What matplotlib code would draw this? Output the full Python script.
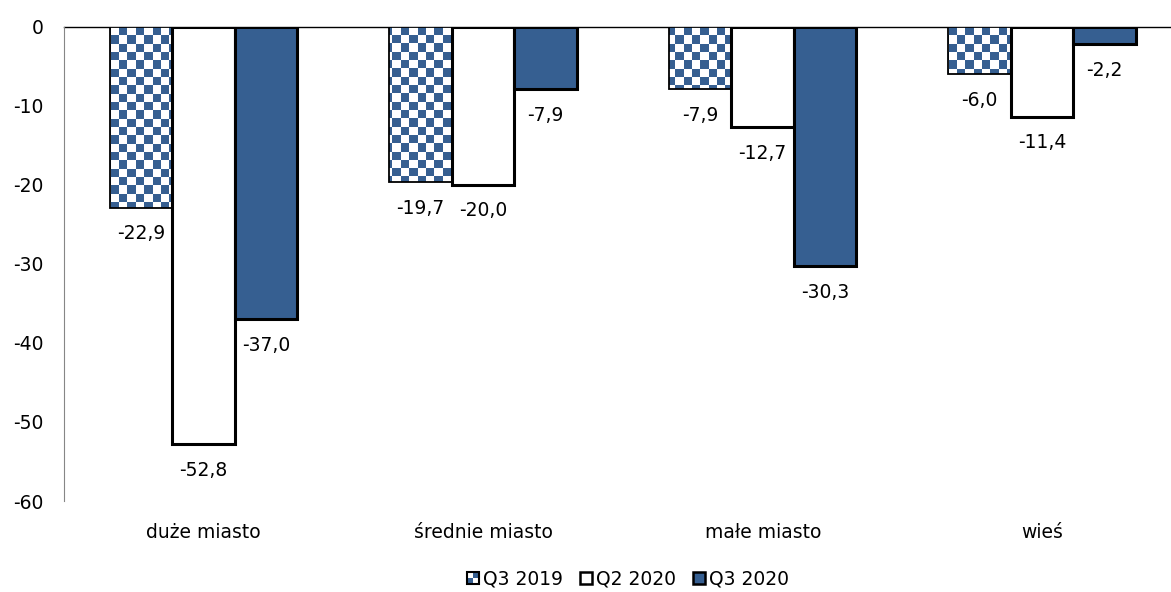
import numpy as np
import matplotlib
matplotlib.use("Agg")
import matplotlib.pyplot as plt
from matplotlib.patches import Rectangle, Patch
from matplotlib.legend_handler import HandlerBase
from matplotlib.colors import ListedColormap

plt.rcParams["font.family"] = ["DejaVu Sans"]
plt.rcParams["axes.unicode_minus"] = False

# Data
categories = ["duże miasto", "średnie miasto", "małe miasto", "wieś"]
series_names = ["Q3 2019", "Q2 2020", "Q3 2020"]
q3_2019 = [-22.9, -19.7, -7.9, -6.0]
q2_2020 = [-52.8, -20.0, -12.7, -11.4]
q3_2020 = [-37.0, -7.9, -30.3, -2.2]
y_ticks = [0, -10, -20, -30, -40, -50, -60]

BLUE = "#365F91"
FS = 13.5

fig = plt.figure(figsize=(11.71, 5.92), dpi=100)
ax = fig.add_axes([0.05465, 0.1537, 0.9547, 0.8015])

x = np.arange(len(categories))
bw = 0.2236

ax.set_xlim(-0.5, len(categories) - 0.5)
ax.set_ylim(-60, 0)

# Checkerboard image used to fill the first series
cell_x = 0.0297   # data units across (~8 px)
cell_y = 1.05     # data units down (~8 px)
ncols = int(np.ceil(4.2 / cell_x))
nrows = int(np.ceil(62 / cell_y))
yy, xx = np.mgrid[0:nrows, 0:ncols]
checker = ((yy + xx) % 2).astype(float)
cmap = ListedColormap(["white", BLUE])
x0 = -0.6
y0 = -61

bars1 = ax.bar(x - bw, q3_2019, bw, facecolor="none", edgecolor="black",
               linewidth=1.3, zorder=3)
for b in bars1:
    im = ax.imshow(checker, cmap=cmap, interpolation="nearest", origin="lower",
                   extent=[x0, x0 + ncols * cell_x, y0, y0 + nrows * cell_y],
                   aspect="auto", zorder=2)
    im.set_clip_path(b)
bars2 = ax.bar(x, q2_2020, bw, facecolor="white", edgecolor="black",
               linewidth=2.2, zorder=3)
bars3 = ax.bar(x + bw, q3_2020, bw, facecolor=BLUE, edgecolor="black",
               linewidth=2.2, zorder=3)

ax.set_xlim(-0.5, len(categories) - 0.5)
ax.set_ylim(-60, 0)

# Value labels under each bar end
for bars, vals in ((bars1, q3_2019), (bars2, q2_2020), (bars3, q3_2020)):
    for b, v in zip(bars, vals):
        ax.annotate(f"{v:.1f}".replace(".", ","),
                    xy=(b.get_x() + b.get_width() / 2, v),
                    xytext=(0, -12), textcoords="offset points",
                    ha="center", va="top", fontsize=FS, color="black")

# Axes styling
ax.set_yticks(y_ticks)
ax.set_yticklabels([str(t) for t in y_ticks])
ax.set_xticks(x)
ax.set_xticklabels(categories)
ax.tick_params(axis="y", length=0, pad=15, labelsize=FS)
ax.tick_params(axis="x", length=0, pad=15.5, labelsize=FS)
for s in ("right", "bottom"):
    ax.spines[s].set_visible(False)
ax.spines["left"].set_color("#868686")
ax.spines["left"].set_linewidth(0.8)
ax.spines["top"].set_color("black")
ax.spines["top"].set_linewidth(1.0)
ax.spines["top"].set_zorder(1)


class CheckerHandler(HandlerBase):
    def create_artists(self, legend, orig_handle, xdescent, ydescent,
                       width, height, fontsize, trans):
        s = min(width, height)
        bx = -xdescent + (width - s) / 2
        by = -ydescent + (height - s) / 2
        h = s / 2
        arts = []
        for i in range(2):
            for j in range(2):
                c = BLUE if (i + j) % 2 == 0 else "white"
                arts.append(Rectangle((bx + i * h, by + j * h), h, h,
                                      facecolor=c, edgecolor="none",
                                      transform=trans))
        arts.append(Rectangle((bx, by), s, s, fill=False, edgecolor="black",
                              linewidth=1.5, transform=trans))
        return arts


class CheckerKey:
    pass


handles = [CheckerKey(),
           Patch(facecolor="white", edgecolor="black", linewidth=1.8),
           Patch(facecolor=BLUE, edgecolor="black", linewidth=1.8)]
fig.legend(handles, series_names, loc="center", ncol=3,
           bbox_to_anchor=(0.536, 0.022), bbox_transform=fig.transFigure,
           frameon=False, fontsize=FS, borderpad=0,
           handlelength=0.64, handleheight=0.64, handletextpad=0.22,
           columnspacing=0.9,
           handler_map={CheckerKey: CheckerHandler()})

fig.savefig("out.png", dpi=100)
